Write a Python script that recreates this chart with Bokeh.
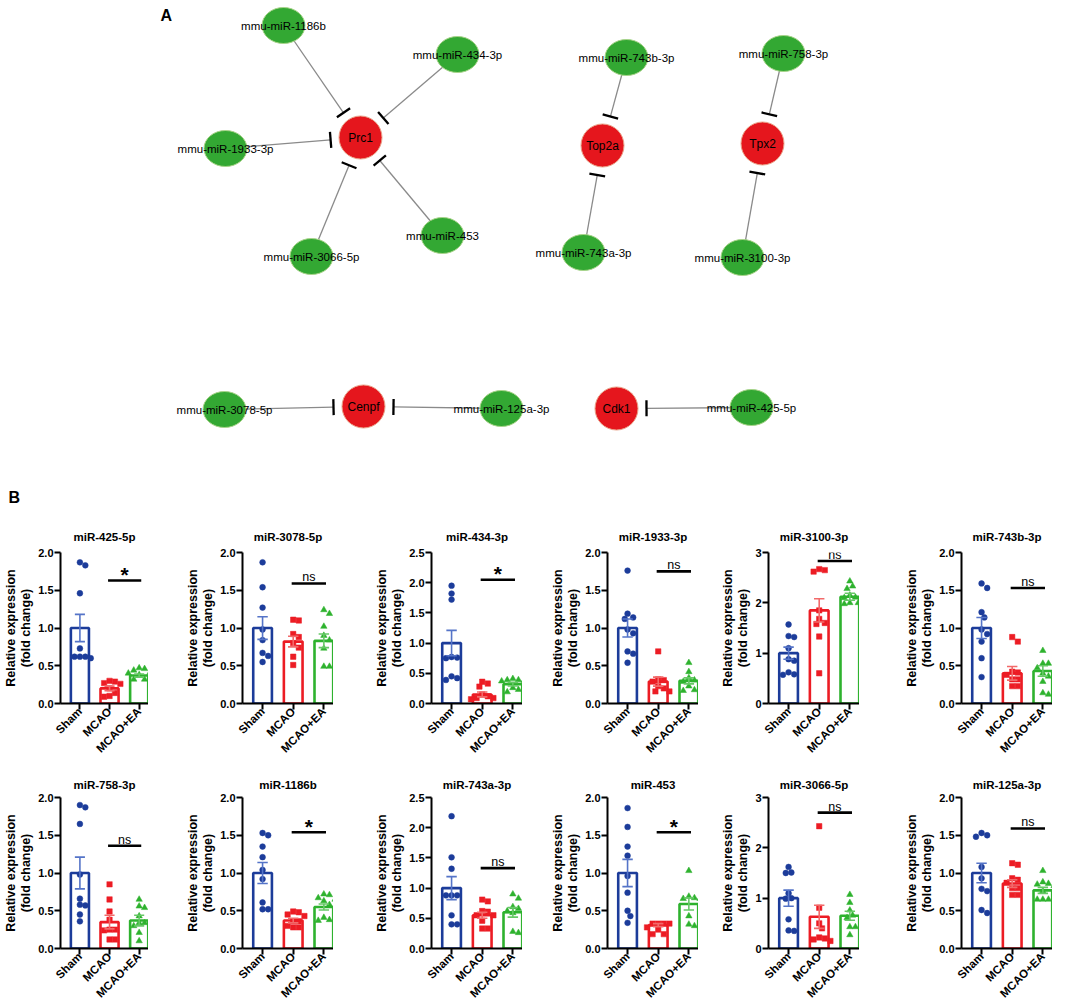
import math
from bokeh.plotting import figure
from bokeh.layouts import column, row
from bokeh.models import Range1d, FixedTicker, PrintfTickFormatter
from bokeh.core.properties import value
from bokeh.embed import file_html
from bokeh.resources import INLINE

FONT = "Liberation Sans"

# ------------------------------------------------------------------ data
groups = ["Sham", "MCAO", "MCAO+EA"]
titles = ["miR-425-5p", "miR-3078-5p", "miR-434-3p", "miR-1933-3p", "miR-3100-3p", "miR-743b-3p",
          "miR-758-3p", "miR-1186b", "miR-743a-3p", "miR-453", "miR-3066-5p", "miR-125a-3p"]
y_max = [2.0, 2.0, 2.5, 2.0, 3.0, 2.0, 2.0, 2.0, 2.5, 2.0, 3.0, 2.0]

sham_pts = [
    [1.87, 1.83, 1.46, 0.73, 0.62, 0.62, 0.62, 0.60],
    [1.87, 1.54, 1.27, 0.98, 0.84, 0.67, 0.63, 0.55],
    [1.95, 1.82, 1.72, 0.77, 0.76, 0.75, 0.45, 0.42, 0.39],
    [1.76, 1.19, 1.14, 1.12, 0.98, 0.93, 0.69, 0.66, 0.54],
    [1.57, 1.34, 1.32, 1.10, 0.88, 0.85, 0.62, 0.58, 0.57],
    [1.59, 1.53, 1.21, 1.14, 0.98, 0.92, 0.82, 0.60, 0.35],
    [1.90, 1.87, 1.65, 0.98, 0.66, 0.58, 0.57, 0.45, 0.36],
    [1.53, 1.50, 1.35, 1.21, 1.04, 0.92, 0.61, 0.52, 0.52],
    [2.19, 1.51, 1.32, 0.88, 0.88, 0.88, 0.55, 0.40, 0.40],
    [1.86, 1.61, 1.35, 1.23, 0.96, 0.74, 0.50, 0.43, 0.34],
    [1.62, 1.51, 1.50, 1.10, 1.00, 0.99, 0.58, 0.36, 0.35],
    [1.53, 1.50, 1.48, 1.08, 0.93, 0.79, 0.76, 0.51, 0.47],
]
mcao_pts = [
    [0.30, 0.29, 0.27, 0.26, 0.20, 0.14, 0.10, 0.09],
    [1.11, 1.10, 0.92, 0.88, 0.80, 0.74, 0.62, 0.51],
    [0.36, 0.33, 0.28, 0.15, 0.12, 0.09, 0.09, 0.07],
    [0.69, 0.32, 0.31, 0.29, 0.23, 0.20, 0.16, 0.16],
    [2.67, 2.65, 2.62, 1.85, 1.68, 1.60, 1.58, 1.33, 0.60],
    [0.88, 0.82, 0.42, 0.41, 0.38, 0.32, 0.32, 0.23, 0.23],
    [0.85, 0.65, 0.49, 0.38, 0.25, 0.25, 0.24, 0.12, 0.12],
    [0.49, 0.48, 0.45, 0.43, 0.36, 0.36, 0.30, 0.28, 0.28],
    [0.81, 0.78, 0.62, 0.61, 0.55, 0.55, 0.46, 0.33, 0.33],
    [0.33, 0.33, 0.33, 0.33, 0.28, 0.25, 0.19, 0.19],
    [2.43, 0.81, 0.50, 0.40, 0.22, 0.20, 0.18, 0.15],
    [1.13, 1.11, 0.93, 0.91, 0.87, 0.80, 0.80, 0.71, 0.71],
]
ea_pts = [
    [0.47, 0.46, 0.44, 0.41, 0.40, 0.38, 0.32, 0.32],
    [1.24, 1.19, 1.02, 0.90, 0.84, 0.73, 0.49, 0.49],
    [0.41, 0.39, 0.39, 0.38, 0.37, 0.26, 0.23, 0.19],
    [0.54, 0.42, 0.34, 0.31, 0.29, 0.23, 0.18, 0.17],
    [2.43, 2.33, 2.28, 2.15, 2.11, 2.10, 2.00, 1.98, 2.00],
    [0.70, 0.53, 0.53, 0.47, 0.40, 0.36, 0.29, 0.14, 0.12],
    [0.65, 0.56, 0.54, 0.43, 0.34, 0.34, 0.30, 0.21, 0.10],
    [0.72, 0.71, 0.67, 0.65, 0.63, 0.58, 0.41, 0.38, 0.37],
    [0.90, 0.83, 0.69, 0.66, 0.62, 0.59, 0.28, 0.26],
    [1.03, 0.69, 0.67, 0.66, 0.66, 0.43, 0.32, 0.30],
    [1.07, 0.91, 0.76, 0.66, 0.61, 0.43, 0.43, 0.27],
    [1.03, 0.88, 0.86, 0.85, 0.83, 0.76, 0.65, 0.65, 0.65],
]
mean_sham = [1.00, 1.00, 1.00, 1.00, 1.00, 1.00, 1.00, 1.00, 1.00, 1.00, 1.00, 1.00]
mean_mcao = [0.20, 0.82, 0.15, 0.29, 1.85, 0.40, 0.35, 0.37, 0.55, 0.31, 0.63, 0.86]
mean_ea = [0.37, 0.83, 0.32, 0.30, 2.12, 0.43, 0.37, 0.55, 0.60, 0.59, 0.65, 0.77]
sem_sham = [0.18, 0.15, 0.21, 0.12, 0.12, 0.14, 0.21, 0.14, 0.19, 0.18, 0.16, 0.13]
sem_mcao = [0.03, 0.07, 0.04, 0.06, 0.23, 0.09, 0.09, 0.03, 0.05, 0.02, 0.23, 0.05]
sem_ea = [0.02, 0.09, 0.03, 0.04, 0.07, 0.07, 0.07, 0.04, 0.08, 0.08, 0.09, 0.04]
sig_y = [1.63, 1.59, 2.05, 1.75, 2.83, 1.53, 1.36, 1.54, 1.33, 1.54, 2.70, 1.59]
sig_label = ["*", "ns", "*", "ns", "ns", "ns", "ns", "*", "ns", "*", "ns", "ns"]

# network (panel A)
targets = ["Prc1", "Top2a", "Tpx2", "Cenpf", "Cdk1"]
mirnas = ["mmu-miR-1186b", "mmu-miR-434-3p", "mmu-miR-1933-3p", "mmu-miR-453", "mmu-miR-3066-5p",
          "mmu-miR-743b-3p", "mmu-miR-743a-3p", "mmu-miR-758-3p", "mmu-miR-3100-3p",
          "mmu-miR-3078-5p", "mmu-miR-125a-3p", "mmu-miR-425-5p"]
edges = [("mmu-miR-1186b", "Prc1"), ("mmu-miR-434-3p", "Prc1"), ("mmu-miR-1933-3p", "Prc1"),
         ("mmu-miR-453", "Prc1"), ("mmu-miR-3066-5p", "Prc1"),
         ("mmu-miR-743b-3p", "Top2a"), ("mmu-miR-743a-3p", "Top2a"),
         ("mmu-miR-758-3p", "Tpx2"), ("mmu-miR-3100-3p", "Tpx2"),
         ("mmu-miR-3078-5p", "Cenpf"), ("mmu-miR-125a-3p", "Cenpf"), ("mmu-miR-425-5p", "Cdk1")]

# node layout (pixels within panel A)
node_pos = {
    "Prc1": (360, 137), "Top2a": (602, 145), "Tpx2": (762, 143), "Cenpf": (363, 406), "Cdk1": (616, 408),
    "mmu-miR-1186b": (283, 25), "mmu-miR-434-3p": (457, 54), "mmu-miR-1933-3p": (225, 148),
    "mmu-miR-453": (442, 235), "mmu-miR-3066-5p": (311, 256), "mmu-miR-743b-3p": (626, 57),
    "mmu-miR-743a-3p": (583, 252), "mmu-miR-758-3p": (783, 53), "mmu-miR-3100-3p": (742, 257),
    "mmu-miR-3078-5p": (224, 409), "mmu-miR-125a-3p": (501, 408), "mmu-miR-425-5p": (751, 407),
}

# ------------------------------------------------------------------ style
BLUE, RED, GREEN = "#1c3c9a", "#ec1c24", "#2eb22e"
EBLUE, ERED, EGREEN = "#5574c8", "#f26a6a", "#66c866"
NET_W, NET_H = 1084, 508

# ------------------------------------------------------------------ panel A
net = figure(width=NET_W, height=NET_H, x_range=Range1d(0, NET_W), y_range=Range1d(NET_H, 0),
             output_backend="svg", toolbar_location=None, x_axis_location=None, y_axis_location=None,
             min_border=0)
net.grid.visible = False
net.outline_line_color = None

lx0, ly0, lx1, ly1 = [], [], [], []
bx0, by0, bx1, by1 = [], [], [], []
for s, t in edges:
    sx, sy = node_pos[s]
    tx, ty = node_pos[t]
    dx, dy = sx - tx, sy - ty
    L = math.hypot(dx, dy)
    ux, uy = dx / L, dy / L
    cx, cy = tx + 30 * ux, ty + 30 * uy
    lx0.append(sx); ly0.append(sy); lx1.append(cx); ly1.append(cy)
    px, py = -uy, ux
    bx0.append(cx - 8 * px); by0.append(cy - 8 * py); bx1.append(cx + 8 * px); by1.append(cy + 8 * py)

net.segment(lx0, ly0, lx1, ly1, line_color="#8a8a8a", line_width=1.3)
net.segment(bx0, by0, bx1, by1, line_color="black", line_width=2.3)

mx = [node_pos[m][0] for m in mirnas]
my = [node_pos[m][1] for m in mirnas]
net.ellipse(mx, my, width=43, height=36, fill_color="#33a833", line_color="#a9d48a", line_width=1)
tx_ = [node_pos[t][0] for t in targets]
ty_ = [node_pos[t][1] for t in targets]
net.ellipse(tx_, ty_, width=43, height=43, fill_color="#e5161d", line_color="#e9a38a", line_width=1)
net.text(mx, my, text=mirnas, text_font=value(FONT), text_font_size="11.5px", text_align="center",
         text_baseline="middle", text_color="black")
net.text(tx_, ty_, text=targets, text_font=value(FONT), text_font_size="12px", text_align="center",
         text_baseline="middle", text_color="black")
net.text([160, 8], [15, 497], text=["A", "B"], text_font=value(FONT), text_font_size="16px",
         text_font_style="bold", text_align="left", text_baseline="middle", text_color="black")

# ------------------------------------------------------------------ panel B
X0, X1 = 0.345, 3.315
FRAME_W = 91
axis_x = [57, 242, 431, 607, 768, 961]


def swarm(vals, center, px_per_x, px_per_y, d=5.6):
    placed = []
    out = [0.0] * len(vals)
    order = sorted(range(len(vals)), key=lambda k: -vals[k])
    cands = [0.0]
    for j in range(1, 14):
        cands += [j * d * 0.5, -j * d * 0.5]
    for k in order:
        ypx = vals[k] * px_per_y
        chosen = cands[-1]
        for c in cands:
            if all((c - qx) ** 2 + (ypx - qy) ** 2 >= d * d for qx, qy in placed):
                chosen = c
                break
        placed.append((chosen, ypx))
        out[k] = center + chosen / px_per_x
    return out


def make_chart(i, width, bleft, height, btop, bbottom, tstand):
    ym = y_max[i]
    p = figure(width=width, height=height, x_range=Range1d(X0, X1), y_range=Range1d(0, ym),
               output_backend="svg", toolbar_location=None,
               min_border_left=bleft, min_border_right=0, min_border_top=btop, min_border_bottom=bbottom)
    p.grid.visible = False
    p.outline_line_color = None
    p.background_fill_color = "white"
    p.border_fill_color = "white"

    p.title.text = titles[i]
    p.title.align = "center"
    p.title.text_font = FONT
    p.title.text_font_size = "11.5px"
    p.title.text_font_style = "bold"
    p.title.text_color = "black"
    p.title.standoff = tstand

    step = 0.5 if ym < 2.9 else 1.0
    nt = int(round(ym / step))
    ticks = [k * step for k in range(nt + 1)]
    yax = p.yaxis[0]
    yax.ticker = FixedTicker(ticks=ticks, minor_ticks=[])
    yax.formatter = PrintfTickFormatter(format="%.1f" if step < 1 else "%d")
    yax.axis_label = "Relative expression\n(fold change)"
    yax.axis_label_text_font = FONT
    yax.axis_label_text_font_size = "12.5px"
    yax.axis_label_text_font_style = "bold"
    yax.axis_label_text_color = "black"
    yax.axis_label_text_line_height = 1.1
    yax.axis_label_standoff = 2
    yax.major_label_text_font = FONT
    yax.major_label_text_font_size = "11px"
    yax.major_label_text_font_style = "bold"
    yax.major_label_standoff = 1

    xax = p.xaxis[0]
    xax.ticker = FixedTicker(ticks=[1, 2, 3], minor_ticks=[])
    xax.major_label_overrides = {1: groups[0], 2: groups[1], 3: groups[2]}
    xax.major_label_orientation = math.pi / 4
    xax.major_label_text_font = FONT
    xax.major_label_text_font_size = "11.5px"
    xax.major_label_text_font_style = "bold"
    xax.major_label_standoff = 0

    for ax in (xax, yax):
        ax.axis_line_width = 2
        ax.axis_line_color = "black"
        ax.major_tick_line_width = 2
        ax.major_tick_line_color = "black"
        ax.major_tick_out = 6
        ax.major_tick_in = 0
        ax.minor_tick_line_color = None
        ax.major_label_text_color = "black"

    means = [mean_sham[i], mean_mcao[i], mean_ea[i]]
    sems = [sem_sham[i], sem_mcao[i], sem_ea[i]]
    p.vbar(x=[1, 2, 3], top=means, width=0.61, fill_color="white",
           line_color=[BLUE, RED, GREEN], line_width=2.6)

    pxx = FRAME_W / (X1 - X0)
    pxy = 152.0 / ym
    pts = [sham_pts[i], mcao_pts[i], ea_pts[i]]
    xs0 = swarm(pts[0], 1, pxx, pxy)
    xs1 = swarm(pts[1], 2, pxx, pxy)
    xs2 = swarm(pts[2], 3, pxx, pxy)
    p.scatter(xs0, pts[0], marker="circle", size=5.8, fill_color=BLUE, line_color=BLUE, line_width=0.5)
    p.scatter(xs1, pts[1], marker="square", size=5.4, fill_color=RED, line_color=RED, line_width=0.5)
    p.scatter(xs2, pts[2], marker="triangle", size=6.4, fill_color=GREEN, line_color=GREEN, line_width=0.5)

    ecol = [EBLUE, ERED, EGREEN]
    lo = [m - s for m, s in zip(means, sems)]
    hi = [m + s for m, s in zip(means, sems)]
    p.segment([1, 2, 3], lo, [1, 2, 3], hi, line_color=ecol, line_width=1.6)
    cw = 0.17
    p.segment([1 - cw, 2 - cw, 3 - cw], hi, [1 + cw, 2 + cw, 3 + cw], hi, line_color=ecol, line_width=1.6)
    p.segment([1 - cw, 2 - cw, 3 - cw], lo, [1 + cw, 2 + cw, 3 + cw], lo, line_color=ecol, line_width=1.6)

    sy = sig_y[i]
    p.segment([1.95], [sy], [3.07], [sy], line_color="black", line_width=2.6)
    if sig_label[i] == "*":
        p.text([2.51], [sy], text=["*"], text_font=value(FONT), text_font_size="21px", text_font_style="bold",
               text_align="center", text_baseline="middle", y_offset=-6, text_color="black")
    else:
        p.text([2.51], [sy], text=["ns"], text_font=value(FONT), text_font_size="12.5px",
               text_align="center", text_baseline="alphabetic", y_offset=-6, text_color="black")
    return p


rows = []
for r, (h, btop, bbot, tstand) in enumerate([(253, 44, 57, 19), (245, 36, 57, 13)]):
    figs = []
    start = 0
    for c in range(6):
        i = r * 6 + c
        bleft = axis_x[c] - start
        w = bleft + FRAME_W
        figs.append(make_chart(i, w, bleft, h, btop, bbot, tstand))
        start += w
    rows.append(row(figs, spacing=0))

layout = column([net] + rows, spacing=0)

open("out.html", "w").write(file_html(layout, INLINE))
